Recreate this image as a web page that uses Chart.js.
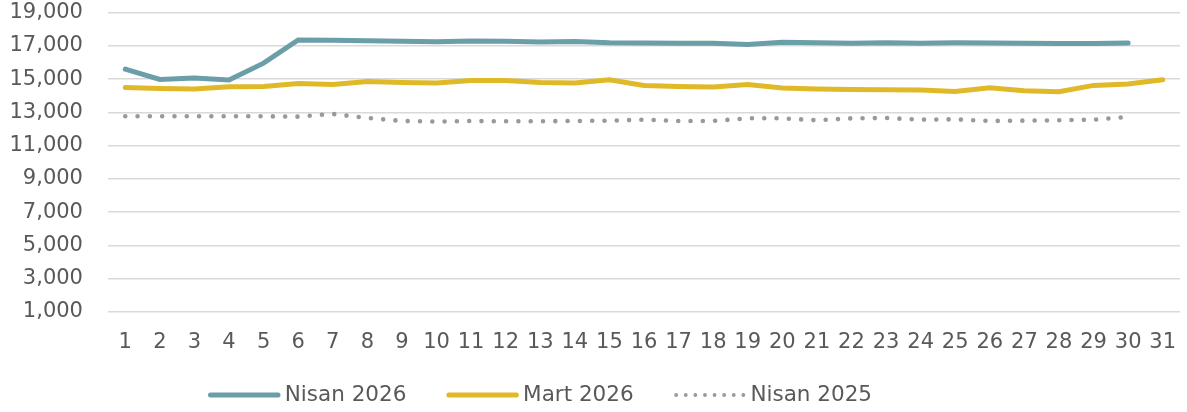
<!DOCTYPE html>
<html lang="tr">
<head>
    <meta charset="UTF-8">
    <title>Nisan 2026</title>
    <script src="https://cdn.jsdelivr.net/npm/chart.js"></script>
    <style>
        html, body { margin: 0; padding: 0; background: #fff; }
        .grafico { width: 1187px; height: 412px; position: relative; }
    </style>
</head>
<body>
<div class="grafico">
    <canvas id="grafico_linhas"></canvas>
</div>
<script>
    var dias = ['1','2','3','4','5','6','7','8','9','10','11','12','13','14','15','16','17','18','19','20','21','22','23','24','25','26','27','28','29','30','31'];

    var nisan2026 = [15600, 14980, 15060, 14940, 15960, 17350, 17330, 17310, 17280, 17250, 17290, 17270, 17230, 17260, 17180,
        17170, 17150, 17160, 17080, 17220, 17180, 17160, 17190, 17150, 17180, 17170, 17150, 17140, 17140, 17170, null];

    var mart2026 = [14500, 14440, 14400, 14540, 14560, 14740, 14680, 14860, 14800, 14770, 14920, 14920, 14800, 14760, 14960,
        14620, 14560, 14520, 14680, 14460, 14400, 14380, 14360, 14340, 14260, 14480, 14300, 14240, 14620, 14700, 14960];

    var nisan2025 = [12760, 12760, 12760, 12760, 12760, 12740, 12900, 12660, 12480, 12440, 12480, 12460, 12460, 12480, 12500,
        12560, 12480, 12480, 12640, 12640, 12520, 12640, 12660, 12560, 12580, 12480, 12500, 12520, 12560, 12720, null];

    var fonte = "'DejaVu Sans', sans-serif";

    // legenda: caixas do chart.js ficam transparentes e as linhas sao desenhadas aqui
    var legendaLinhas = {
        id: 'legendaLinhas',
        afterUpdate: function (chart) {
            var legenda = chart.legend;
            var pad = legenda.options.labels.padding;
            var tamFonte = legenda.options.labels.font.size;
            var dx = 208 - pad - legenda.left;
            var dy = 395 - (legenda.top + pad + tamFonte / 2);
            legenda.left += dx;
            legenda.right += dx;
            legenda.top += dy;
            legenda.legendHitBoxes.forEach(function (hb) {
                hb.left += dx;
                hb.top += dy;
            });
        },
        afterDraw: function (chart) {
            var legenda = chart.legend;
            var ctx = chart.ctx;
            legenda.legendItems.forEach(function (item, i) {
                var hb = legenda.legendHitBoxes[i];
                var ds = chart.data.datasets[item.datasetIndex];
                var y = hb.top + hb.height / 2;
                ctx.save();
                ctx.strokeStyle = ds.borderColor;
                ctx.lineCap = 'round';
                if (ds.borderDash) {
                    ctx.lineWidth = 3.8;
                    ctx.setLineDash([0, 9.6]);
                } else {
                    ctx.lineWidth = 5;
                    ctx.setLineDash([]);
                }
                ctx.beginPath();
                ctx.moveTo(hb.left + 2.5, y);
                ctx.lineTo(hb.left + 70, y);
                ctx.stroke();
                ctx.restore();
            });
        }
    };

    var ctx = document.getElementById('grafico_linhas').getContext('2d');
    var myChart = new Chart(ctx, {
        type: 'line',
        data: {
            labels: dias,
            datasets: [{
                label: 'Nisan 2026',
                data: nisan2026,
                borderColor: '#6A9EA8',
                backgroundColor: '#6A9EA8',
                borderWidth: 5,
                borderCapStyle: 'round',
                pointRadius: 0,
                tension: 0
            }, {
                label: 'Mart 2026',
                data: mart2026,
                borderColor: '#E0B928',
                backgroundColor: '#E0B928',
                borderWidth: 5,
                borderCapStyle: 'round',
                pointRadius: 0,
                tension: 0
            }, {
                label: 'Nisan 2025',
                data: nisan2025,
                borderColor: '#999999',
                backgroundColor: '#999999',
                borderWidth: 4.6,
                borderCapStyle: 'round',
                borderDash: [0, 12.3],
                pointRadius: 0,
                tension: 0
            }]
        },
        options: {
            responsive: true,
            maintainAspectRatio: false,
            animation: false,
            layout: {
                padding: { top: 0, right: 7, left: 9.5, bottom: 0 }
            },
            plugins: {
                legend: {
                    display: true,
                    position: 'bottom',
                    align: 'start',
                    maxHeight: 57,
                    labels: {
                        boxWidth: 66,
                        padding: 40,
                        color: '#595959',
                        font: { family: fonte, size: 21.5 },
                        generateLabels: function (chart) {
                            var itens = Chart.defaults.plugins.legend.labels.generateLabels(chart);
                            itens.forEach(function (item) {
                                item.fillStyle = 'rgba(0,0,0,0)';
                                item.strokeStyle = 'rgba(0,0,0,0)';
                                item.lineWidth = 0;
                            });
                            return itens;
                        }
                    }
                },
                tooltip: { enabled: false }
            },
            scales: {
                x: {
                    offset: true,
                    grid: { display: false, drawTicks: true, tickLength: 18 },
                    border: { display: false },
                    ticks: {
                        color: '#595959',
                        maxRotation: 0,
                        autoSkip: false,
                        padding: 0,
                        font: { family: fonte, size: 21 }
                    }
                },
                y: {
                    min: 1000,
                    max: 19000,
                    grid: { color: '#D9D9D9', lineWidth: 1.5, drawTicks: true, tickLength: 25, tickColor: 'rgba(0,0,0,0)' },
                    border: { display: false },
                    ticks: {
                        stepSize: 2000,
                        padding: 0,
                        color: '#595959',
                        font: { family: fonte, size: 21 },
                        callback: function (valor) {
                            return valor.toLocaleString('en-US');
                        }
                    }
                }
            }
        },
        plugins: [legendaLinhas]
    });
</script>
</body>
</html>
